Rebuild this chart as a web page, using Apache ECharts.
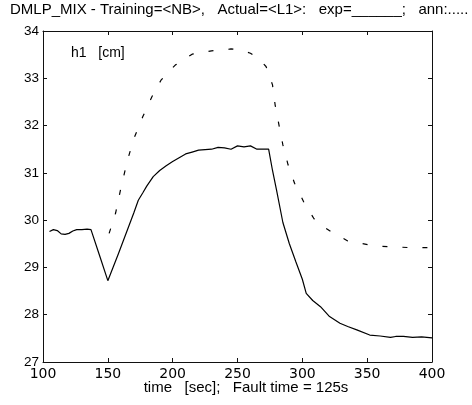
<!DOCTYPE html>
<html>
<head>
<meta charset="utf-8">
<script src="https://cdn.jsdelivr.net/npm/echarts@6/dist/echarts.min.js"></script>
<style>
html,body{margin:0;padding:0;background:#fff;}
#chart{width:472px;height:405px;}
</style>
</head>
<body>
<div id="chart"></div>
<script>
// Solid line (exp)
var expTime = [105,108,111,114,117,120,123,126,130,134,137,144,150,154,158,162,166,170,173.5,177,180,185,190,195,200,205,210,215,220,225,230,235,240,245,250,255,260,265,270,274,277,280,285,290,295,300,303,308,314,321,329,335,342,352,360,368,372,378,385,392,400];
var expValue = [29.76,29.80,29.78,29.71,29.70,29.72,29.77,29.80,29.80,29.81,29.80,29.22,28.72,29.00,29.28,29.57,29.86,30.15,30.42,30.58,30.72,30.92,31.05,31.15,31.24,31.32,31.40,31.44,31.48,31.49,31.50,31.54,31.53,31.50,31.57,31.55,31.57,31.50,31.50,31.50,31.05,30.65,29.95,29.50,29.12,28.75,28.45,28.30,28.17,27.96,27.82,27.75,27.68,27.57,27.55,27.52,27.54,27.54,27.52,27.53,27.51];
// Dashed line (ann)
var annTime = [151,156,160,165,170,177,184,191,202,215,230,245,252,260,266,272,277,279,282,285,289,294,301,309,315,322,330,335,343,351,360,366,375,382,390,400];
var annValue = [29.72,30.15,30.67,31.25,31.72,32.19,32.61,32.96,33.28,33.51,33.58,33.62,33.60,33.53,33.42,33.25,32.86,32.44,32.01,31.59,31.17,30.78,30.39,30.03,29.88,29.76,29.64,29.56,29.52,29.48,29.45,29.44,29.43,29.42,29.42,29.42];

var titleText = 'DMLP_MIX - Training=<NB>,   Actual=<L1>:   exp=______;   ann:.....';
var panelLabel = 'h1   [cm]';
var xAxisTitle = 'time   [sec];   Fault time = 125s';

function pairs(t, v){ return t.map(function(x,i){ return [x, v[i]]; }); }

var FONT = '"Liberation Sans", Arial, Helvetica, sans-serif';
var chart = echarts.init(document.getElementById('chart'), null, {renderer:'canvas'});

function xAx(pos, showLabel){
  return {
    type:'value', min:100, max:400, interval:50, position:pos,
    axisLine:{show:true, onZero:false, lineStyle:{color:'#111', width:1}},
    axisTick:{show:true, inside:true, length:4, lineStyle:{color:'#111'}},
    axisLabel:{show:showLabel, color:'#000', fontSize:14, fontFamily:'"DejaVu Sans", sans-serif', margin:5},
    splitLine:{show:false}
  };
}
function yAx(pos, showLabel){
  return {
    type:'value', min:27, max:34, interval:1, position:pos,
    axisLine:{show:true, onZero:false, lineStyle:{color:'#111', width:1}},
    axisTick:{show:true, inside:true, length:4, lineStyle:{color:'#111'}},
    axisLabel:{show:showLabel, color:'#000', fontSize:13.5, fontFamily:FONT, margin:4},
    splitLine:{show:false}
  };
}

chart.setOption({
  animation:false,
  backgroundColor:'#fff',
  grid:{left:43, right:40, top:31, bottom:43, outerBoundsMode:'none'},
  xAxis:[xAx('bottom', true), xAx('top', false)],
  yAxis:[yAx('left', true), yAx('right', false)],
  series:[
    {type:'line', data:pairs(expTime, expValue), showSymbol:false, symbol:'none',
     lineStyle:{color:'#000', width:1.2, type:'solid'}, xAxisIndex:0, yAxisIndex:0},
    {type:'line', data:pairs(annTime, annValue), showSymbol:false, symbol:'none',
     lineStyle:{color:'#000', width:1.2, type:[5,15]}, xAxisIndex:0, yAxisIndex:0}
  ],
  graphic:[
    {type:'text', left:10, top:2, style:{text:titleText, fill:'#000', font:'15px ' + FONT}},
    {type:'text', left:71, top:46, style:{text:panelLabel, fill:'#000', font:'14px ' + FONT}},
    {type:'text', x:246, y:388, style:{text:xAxisTitle, fill:'#000', font:'15px ' + FONT, align:'center', verticalAlign:'middle'}}
  ]
});
</script>
</body>
</html>
